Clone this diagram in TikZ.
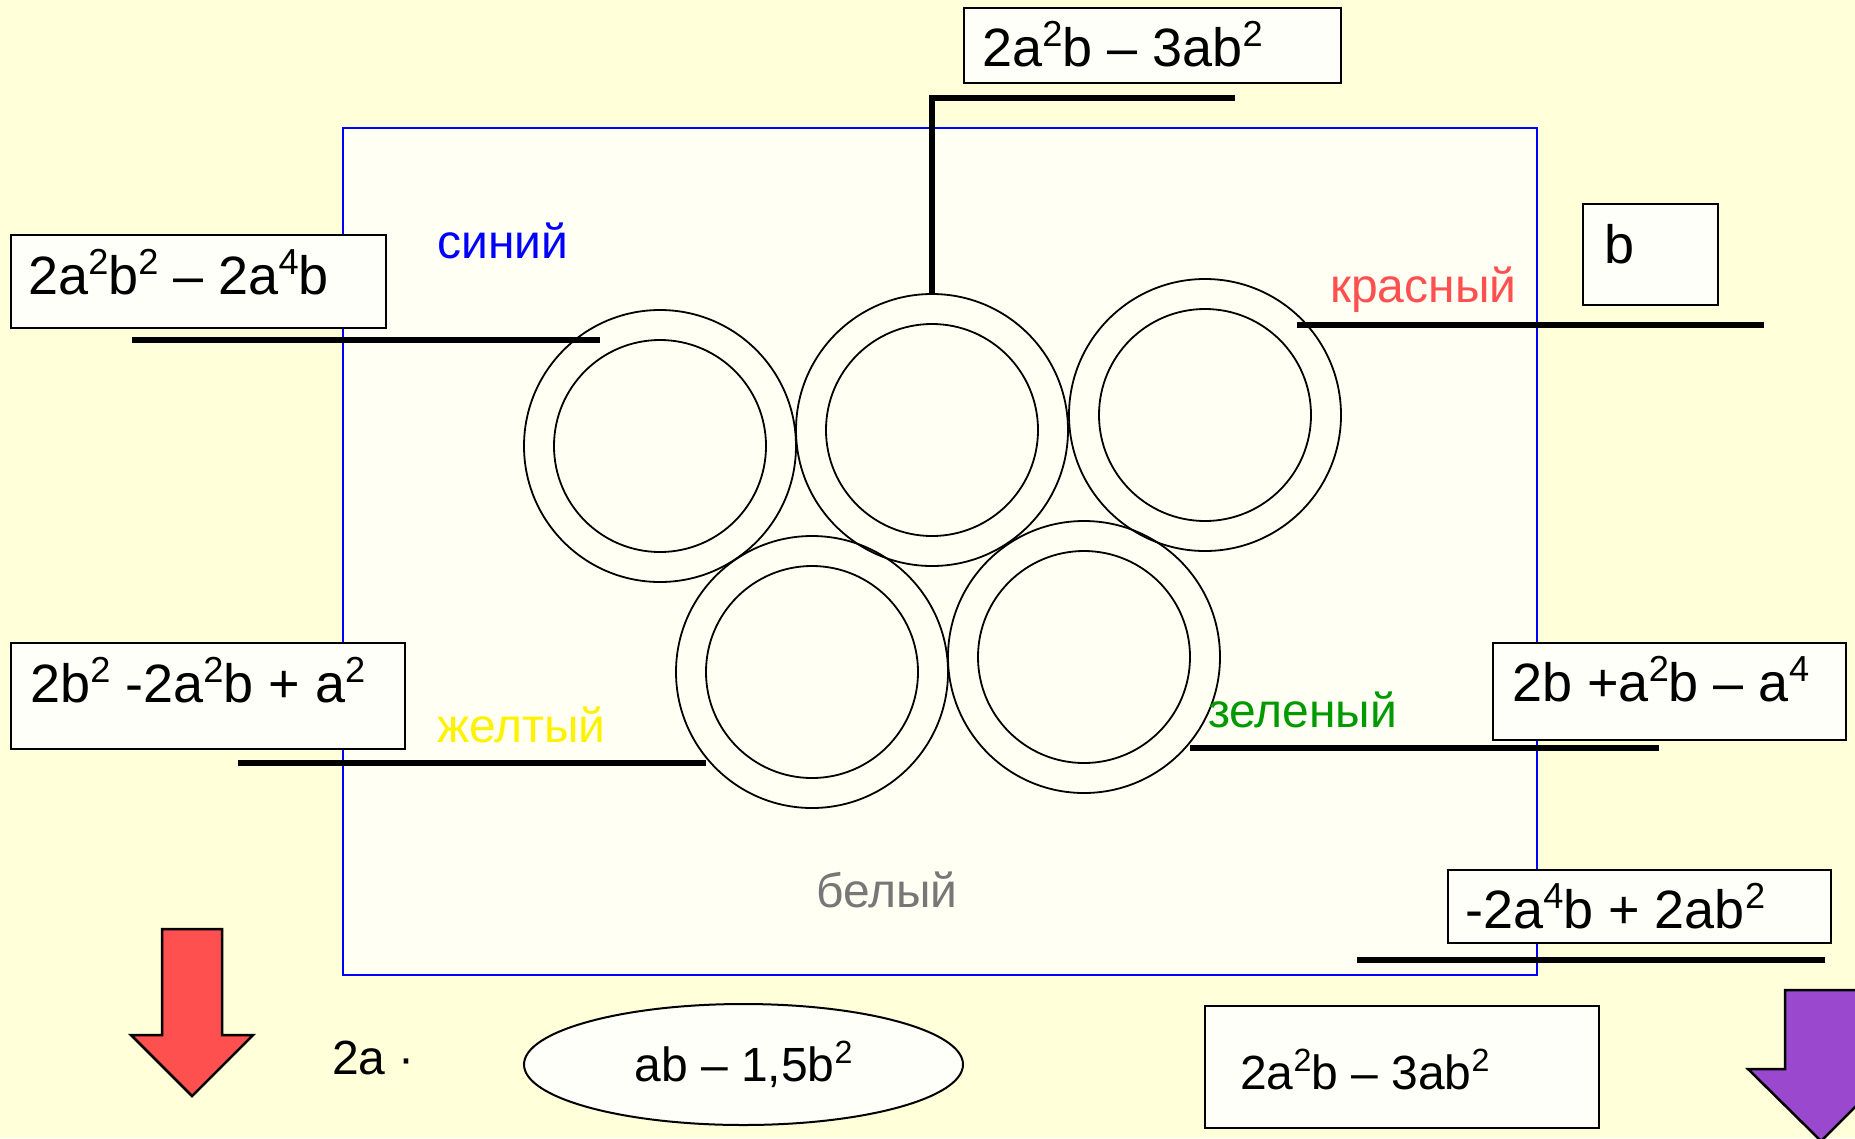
\documentclass[tikz,border=0pt]{standalone}
\usepackage{fontspec}
\usepackage{graphicx}
\setmainfont{Liberation Sans}
\usetikzlibrary{shapes.geometric}

\definecolor{paper}{RGB}{255,255,218}
\definecolor{sheet}{RGB}{255,255,244}
\definecolor{cardfill}{RGB}{255,255,250}
\definecolor{redarrow}{RGB}{255,80,80}
\definecolor{violetarrow}{RGB}{154,72,206}
\definecolor{redtext}{RGB}{255,80,80}
\definecolor{greentext}{RGB}{0,153,0}
\definecolor{greytext}{RGB}{119,119,119}

\newcommand{\pw}[1]{\raisebox{0.37em}{\scalebox{0.67}{#1}}}

\tikzset{
  ring/.style={circle,draw,line width=1.8pt,minimum size=272pt,inner sep=0pt},
  hole/.style={circle,draw,line width=1.8pt,minimum size=212pt,inner sep=0pt},
  card/.style={draw,line width=2pt,fill=cardfill,inner sep=0pt,anchor=north west},
  lead/.style={line width=5.5pt},
  big/.style={anchor=base west,inner sep=0pt,font=\fontsize{54}{64}\selectfont},
  small/.style={anchor=base west,inner sep=0pt,font=\fontsize{48}{58}\selectfont},
}

\begin{document}
\begin{tikzpicture}[x=1pt,y=-1pt]
        \useasboundingbox (0,0) rectangle (1855,1138);
        \clip (0,0) rectangle (1855,1138);
        \fill[paper] (0,0) rectangle (1855,1138);
        \draw[blue,line width=2pt,fill=sheet] (343,128) rectangle (1537,975);

        \node[ring] (ringBlue) at (660,446) {};
        \node[hole] (holeBlue) at (ringBlue) {};
        \node[ring] (ringBlack) at (932,430) {};
        \node[hole] (holeBlack) at (ringBlack) {};
        \node[ring] (ringRed) at (1205,415) {};
        \node[hole] (holeRed) at (ringRed) {};
        \node[ring] (ringYellow) at (812,672) {};
        \node[hole] (holeYellow) at (ringYellow) {};
        \node[ring] (ringGreen) at (1084,657) {};
        \node[hole] (holeGreen) at (ringGreen) {};

        \node[small,blue] (blueName) at (437,258) {синий};
        \node[small,redtext] (redName) at (1330,302) {красный};
        \node[small,yellow] (yellowName) at (437,742) {желтый};
        \node[small,greentext] (greenName) at (1208,727) {зеленый};
        \node[small,greytext] (whiteName) at (816,907) {белый};

        \node[card,minimum width=375pt,minimum height=93pt] (cardBlue) at (10,234) {};
        \node[big] (exprBlue) at (28,294) {2a\pw{2}b\pw{2} – 2a\pw{4}b};
        \node[card,minimum width=377pt,minimum height=75pt] (cardBlack) at (963,7) {};
        \node[big] (exprBlack) at (982,66) {2a\pw{2}b – 3ab\pw{2}};
        \node[card,minimum width=135pt,minimum height=101pt] (cardRed) at (1582,203) {};
        \node[big] (exprRed) at (1604,263) {b};
        \node[card,minimum width=394pt,minimum height=106pt] (cardYellow) at (10,642) {};
        \node[big] (exprYellow) at (30,702) {2b\pw{2} -2a\pw{2}b + a\pw{2}};
        \node[card,minimum width=353pt,minimum height=97pt] (cardGreen) at (1492,642) {};
        \node[big] (exprGreen) at (1512,701) {2b +a\pw{2}b – a\pw{4}};
        \node[card,minimum width=383pt,minimum height=73pt] (cardWhite) at (1447,869) {};
        \node[big] (exprWhite) at (1465,928) {-2a\pw{4}b + 2ab\pw{2}};

        \coordinate (blueA) at (132,340);
        \coordinate (blueB) at (600,340);
        \coordinate (blackA) at (1235,98);
        \coordinate (redA) at (1297,325);
        \coordinate (redB) at (1764,325);
        \coordinate (yellowA) at (238,763);
        \coordinate (yellowB) at (706,763);
        \coordinate (greenA) at (1190,748);
        \coordinate (greenB) at (1659,748);
        \coordinate (whiteA) at (1357,960);
        \coordinate (whiteB) at (1825,960);
        \draw[lead] (blueA) -- (blueB);
        \draw[lead] (blackA) -| (ringBlack.north);
        \draw[lead] (redA) -- (redB);
        \draw[lead] (yellowA) -- (yellowB);
        \draw[lead] (greenA) -- (greenB);
        \draw[lead] (whiteA) -- (whiteB);

        \draw[line width=2.5pt,fill=redarrow] (162,929) -- (222,929) -- (222,1035) -- (253,1035)
          -- (192,1096) -- (131,1035) -- (162,1035) -- cycle;
        \node[small] (factor) at (332,1074) {2a ·};
        \node[ellipse,draw,line width=2pt,fill=cardfill,minimum width=439pt,minimum height=121pt,
          inner sep=0pt,font=\fontsize{48}{58}\selectfont] (oval) at (743.5,1064.5) {ab – 1,5b\pw{2}};
        \node[card,minimum width=394pt,minimum height=122pt] (cardAnswer) at (1204,1005) {};
        \node[small] (exprAnswer) at (1240,1089) {2a\pw{2}b – 3ab\pw{2}};
        \draw[line width=2.5pt,fill=violetarrow] (1785,990) -- (1857,990) -- (1857,1069) -- (1893,1069)
          -- (1821,1141) -- (1748,1069) -- (1785,1069) -- cycle;
      \end{tikzpicture}
\end{document}
